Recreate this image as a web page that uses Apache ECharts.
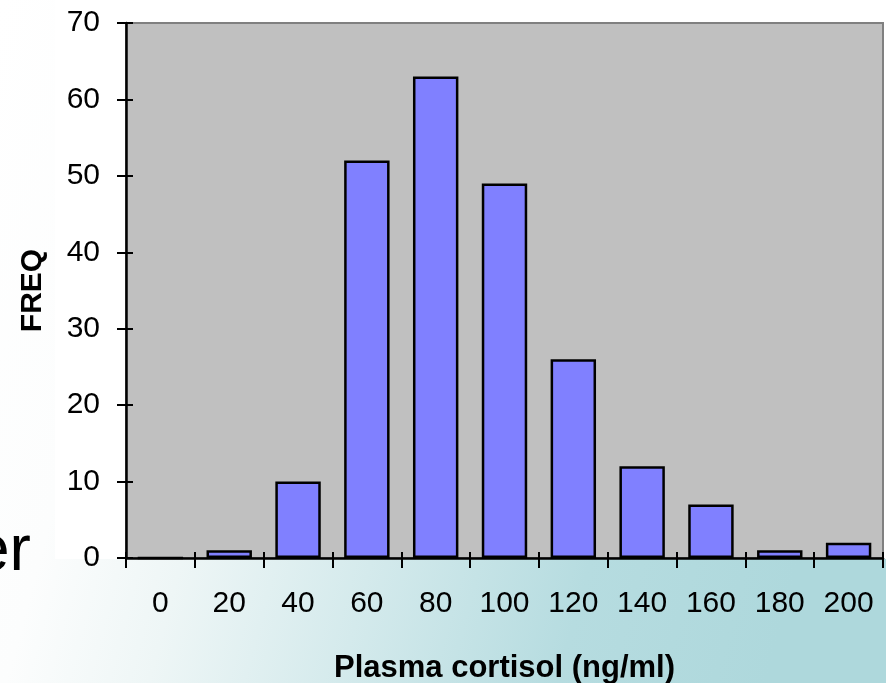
<!DOCTYPE html>
<html>
<head>
<meta charset="utf-8">
<script src="https://cdn.jsdelivr.net/npm/echarts@6/dist/echarts.min.js"></script>
<style>
  html, body { margin: 0; padding: 0; background: #ffffff; }
  #chart { width: 886px; height: 683px; }
</style>
</head>
<body>
<div id="chart"></div>
<script>
// Cortisol bins (ng/ml) and how many samples fall in each
const categories = ['0', '20', '40', '60', '80', '100', '120', '140', '160', '180', '200'];
const freq = [0, 1, 10, 52, 63, 49, 26, 12, 7, 1, 2];
const yTicks = { min: 0, max: 70, step: 10 };

const labelFont = 'Liberation Sans, Arial, sans-serif';

const chart = echarts.init(document.getElementById('chart'), null, { renderer: 'canvas' });

chart.setOption({
  backgroundColor: 'transparent',
  animation: false,
  graphic: [
    // slide backdrop: white fading into teal towards the lower right
    {
      type: 'rect', z: -10, silent: true,
      shape: { x: 0, y: 0, width: 886, height: 683 },
      style: {
        fill: {
          type: 'linear', x: 0, y: 0, x2: 1, y2: 0.35,
          colorStops: [
            { offset: 0, color: '#ffffff' },
            { offset: 0.2, color: '#fcfdfd' },
            { offset: 0.35, color: '#eef6f6' },
            { offset: 0.55, color: '#d4eaec' },
            { offset: 0.78, color: '#b6dce0' },
            { offset: 1, color: '#aed8dc' }
          ]
        }
      }
    },
    // white chart block above the axis
    {
      type: 'rect', z: -9, silent: true,
      shape: { x: 55, y: 0, width: 831, height: 559 },
      style: { fill: '#ffffff' }
    },
    // slide text partly hidden behind the chart
    {
      type: 'text', z: -8, silent: true,
      left: -26, top: 520,
      style: {
        text: 'er',
        fontFamily: labelFont,
        fontSize: 64,
        fill: '#000000'
      }
    }
  ],
  grid: {
    left: 126, right: 3, top: 23, bottom: 125,
    outerBoundsMode: 'none',
    containLabel: false,
    show: true,
    backgroundColor: '#c0c0c0',
    borderColor: '#808080',
    borderWidth: 2
  },
  xAxis: [
    {
      type: 'category',
      data: categories,
      position: 'bottom',
      name: 'Plasma cortisol (ng/ml)',
      nameLocation: 'middle',
      nameGap: 95,
      nameTextStyle: { fontFamily: labelFont, fontSize: 31, fontWeight: 'bold', color: '#000' },
      axisLine: { show: true, lineStyle: { color: '#000', width: 2.5 } },
      axisTick: { show: true, inside: false, length: 10, lineStyle: { color: '#000', width: 2 } },
      axisLabel: { margin: 31, fontFamily: labelFont, fontSize: 30, color: '#000' },
      splitLine: { show: false }
    },
    {
      type: 'category',
      data: categories,
      position: 'bottom',
      axisLine: { show: false },
      axisTick: { show: true, inside: true, length: 6, lineStyle: { color: '#000', width: 2 } },
      axisLabel: { show: false },
      splitLine: { show: false }
    }
  ],
  yAxis: [
    {
      type: 'value',
      min: yTicks.min, max: yTicks.max, interval: yTicks.step,
      position: 'left',
      name: 'FREQ',
      nameLocation: 'middle',
      nameRotate: 90,
      nameGap: 78,
      nameTextStyle: { fontFamily: labelFont, fontSize: 30, fontWeight: 'bold', color: '#000' },
      axisLine: { show: true, lineStyle: { color: '#000', width: 2.5 } },
      axisTick: { show: true, inside: false, length: 9, lineStyle: { color: '#000', width: 2 } },
      axisLabel: { margin: 26, fontFamily: labelFont, fontSize: 30, color: '#000' },
      splitLine: { show: false }
    },
    {
      type: 'value',
      min: yTicks.min, max: yTicks.max, interval: yTicks.step,
      position: 'left',
      axisLine: { show: false },
      axisTick: { show: true, inside: true, length: 7, lineStyle: { color: '#000', width: 2 } },
      axisLabel: { show: false },
      splitLine: { show: false }
    }
  ],
  series: [
    {
      type: 'bar',
      xAxisIndex: 0,
      yAxisIndex: 0,
      data: freq,
      barCategoryGap: '34%',
      itemStyle: { color: '#8080ff', borderColor: '#000', borderWidth: 2.5 },
      z: 3
    }
  ]
});
</script>
</body>
</html>
